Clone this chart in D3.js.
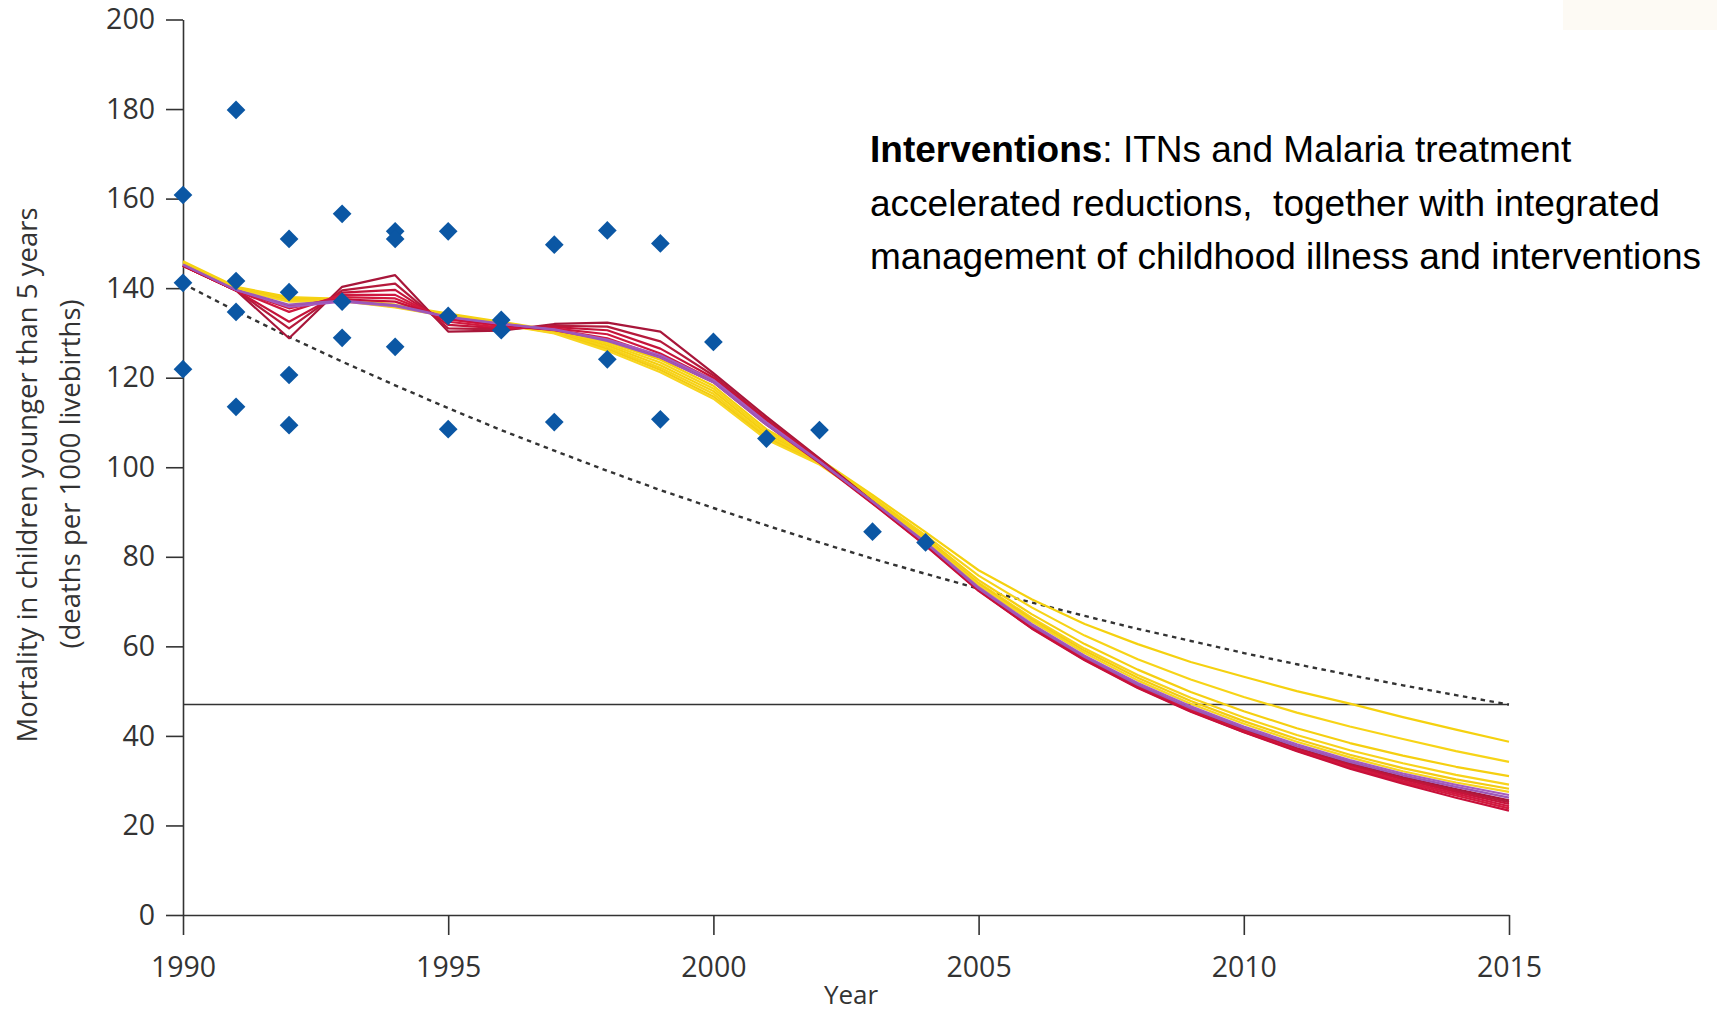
<!DOCTYPE html>
<html><head><meta charset="utf-8">
<script src="https://cdn.jsdelivr.net/npm/d3@7"></script>
<style>
body{margin:0;background:#fff;}
svg{display:block;}
</style>
</head><body>
<svg id="chart" width="1717" height="1011"></svg>
<script>
// ---------------- DATA ----------------
const years = [1990,1991,1992,1993,1994,1995,1996,1997,1998,1999,2000,2001,2002,
               2003,2004,2005,2006,2007,2008,2009,2010,2011,2012,2013,2014,2015];
const xTicks = [1990,1995,2000,2005,2010,2015];
const yTicks = [0,20,40,60,80,100,120,140,160,180,200];

// Observed survey estimates (diamonds)
const pointYears  = [1990,1990,1990, 1991,1991,1991,1991, 1992,1992,1992,1992,
                     1993,1993,1993, 1994,1994,1994, 1995,1995,1995, 1996,1996,
                     1997,1997, 1998,1998, 1999,1999, 2000, 2001, 2002, 2003, 2004];
const pointValues = [160.8,141.2,121.9, 179.8,141.6,134.7,113.5, 151.0,139.1,120.6,109.4,
                     156.6,137.0,128.9, 152.7,151.0,126.9, 152.7,133.8,108.5, 132.9,130.6,
                     149.7,110.1, 152.9,124.1, 150.0,110.7, 128.0, 106.4, 108.3, 85.6, 83.2];

// MDG target trajectory (dotted) and target level
const targetPath = [141,134.9,129.1,123.6,118.3,113.2,108.3,103.7,99.2,94.9,90.9,87.0,83.2,
                    79.6,76.2,72.9,69.8,66.8,63.9,61.2,58.5,56.0,53.6,51.3,49.1,47.0];
const targetLevel = 47;

// Model runs: yellow
const yellow1 = [146,140.3,138,137.6,136.3,134.3,132.5,130.6,128,124,118.2,108.5,101.8,
                 93.8,85.5,77,70.5,65,60.5,56.5,53.2,50,47.2,44.2,41.4,38.7];
const yellow2 = [145.7,140.1,137.8,137.5,136.1,134.1,132.3,130.4,127.6,123.4,117.6,108,101.5,
                 93.3,84.8,75.8,68.7,62.4,57.1,52.6,48.7,45.2,42.1,39.3,36.6,34.2];
const yellow3 = [145.5,140,137.6,137.4,136,134,132.2,130.2,127.2,122.8,117,107.5,101.2,
                 93,84.3,74.8,67.2,60.5,54.8,49.8,45.5,41.7,38.4,35.6,33.1,31.0];
const yellow4 = [145.3,139.9,137.4,137.3,135.9,133.9,132.1,130.1,126.8,122.2,116.4,107,101,
                 92.8,84,74.2,66.4,59.5,53.6,48.5,44.1,40.2,36.8,33.9,31.3,29.1];
const yellow5 = [145.1,139.8,137.2,137.2,135.8,133.8,132,130,126.4,121.7,115.8,106.6,100.8,
                 92.6,83.8,73.9,66,59,53,47.8,43.3,39.3,35.8,32.8,30.3,28.2];
const yellow6 = [145,139.7,137,137.1,135.7,133.7,131.9,129.9,126,121.2,115.3,106.2,100.6,
                 92.5,83.6,73.6,65.6,58.5,52.4,47.2,42.7,38.7,35.2,32.1,29.6,27.5];
// Model runs: red
const red1 = [145,139.5,128.8,140.3,142.9,130.3,130.5,132,132.3,130.3,121,111.3,102,
              92.4,83,72.9,64.5,57.4,51.2,45.9,41.4,37.3,33.8,30.8,28.1,25.6];
const red2 = [145,139.5,131,139.5,141,131,130.8,131.6,131.4,128.1,120.5,110.8,101.8,
              92.3,82.9,72.8,64.4,57.3,51.1,45.8,41.2,37.1,33.6,30.5,27.8,25.2];
const red3 = [145,139.5,132.5,139,139.6,131.8,131,131.3,130.6,126.5,120,110.5,101.6,
              92.2,82.8,72.7,64.3,57.2,51,45.7,41.1,37,33.4,30.3,27.5,24.8];
const red4 = [145,139.5,134.7,138.5,138.5,132.5,131.2,131,129.7,125.4,119.5,110,101.4,
              92.1,82.7,72.6,64.2,57.1,50.9,45.6,41,36.8,33.1,29.9,27.1,24.3];
const red5 = [145,139.5,135.5,138,137.7,133,131.5,130.8,128.8,124.7,119.2,109.8,101.2,
              92,82.6,72.5,64.1,57,50.8,45.5,40.9,36.7,32.9,29.6,26.7,23.8];
const red6 = [145,139.5,136,137.5,137,133.2,131.8,130.6,128.5,124.5,119,109.5,101,
              91.9,82.5,72.4,64,56.9,50.7,45.4,40.8,36.6,32.7,29.3,26.2,23.3];
// Model runs: purple
const purple1 = [145.3,139.6,135.8,137,136,133.5,132,130.8,128.5,125,119.5,110,101.3,
                 92.4,83.3,73.2,65,57.9,51.8,46.6,42.1,38.1,34.6,31.6,29.1,26.8];
const purple2 = [145.2,139.6,136.3,137.2,136.2,133.6,132.1,130.7,128.2,124.5,119,109.5,101.2,
                 92.3,83.1,72.9,64.7,57.6,51.4,46.2,41.7,37.7,34.2,31.2,28.6,26.2];

const yTitle1 = "Mortality in children younger than 5 years";
const yTitle2 = "(deaths per 1000 livebirths)";
const xTitle = "Year";
const noteBold = "Interventions";
const noteLines = [": ITNs and Malaria treatment",
                   "accelerated reductions,  together with integrated",
                   "management of childhood illness and interventions"];

// ---------------- CHART ----------------
const svg = d3.select("#chart");
const x = d3.scaleLinear().domain([1990, 2015]).range([183, 1509]);
const y = d3.scaleLinear().domain([0, 200]).range([915, 19.5]);

svg.append("rect").attr("x",1563).attr("y",0).attr("width",154).attr("height",30)
   .attr("fill","#fdfaf4");

const axisColor = "#333";
const tickFont = "'Open Sans', 'DejaVu Sans', sans-serif";

// Y axis
const gy = svg.append("g").attr("transform", `translate(${x(1990)},0)`)
  .call(d3.axisLeft(y).tickValues(yTicks).tickSize(17).tickSizeOuter(0).tickPadding(11));
// X axis
const gx = svg.append("g").attr("transform", `translate(0,${y(0)})`)
  .call(d3.axisBottom(x).tickValues(xTicks).tickFormat(d3.format("d")).tickSize(20).tickSizeOuter(0).tickPadding(22));
[gx, gy].forEach(g => {
  g.selectAll("path,line").attr("stroke", axisColor).attr("stroke-width", 1.6);
  g.selectAll("text").attr("fill", "#333").style("font-family", tickFont).style("font-size", "28.5px");
});

// target line
svg.append("line")
  .attr("x1", x(1990)).attr("x2", x(2015))
  .attr("y1", y(targetLevel)).attr("y2", y(targetLevel))
  .attr("stroke", "#333").attr("stroke-width", 1.6);

const line = d3.line().x((d,i) => x(years[i])).y(d => y(d));

// dotted trajectory
svg.append("path").datum(targetPath)
  .attr("d", line).attr("fill","none")
  .attr("stroke","#333").attr("stroke-width",2.4).attr("stroke-dasharray","4.5,4.5");

const runs = [
  {d: yellow1, c: "#f5d10f"}, {d: yellow2, c: "#f7d417"}, {d: yellow3, c: "#f5cf10"},
  {d: yellow4, c: "#f7d31a"}, {d: yellow5, c: "#f3cc12"}, {d: yellow6, c: "#f8d520"},
  {d: red1, c: "#a8163a"}, {d: red2, c: "#b51a3c"}, {d: red3, c: "#c4143a"},
  {d: red4, c: "#cf1840"}, {d: red5, c: "#d21a3e"}, {d: red6, c: "#c8103a"},
  {d: purple1, c: "#a45cc0"}, {d: purple2, c: "#9c58b8"}
];
svg.append("g").selectAll("path").data(runs).join("path")
  .attr("d", r => line(r.d)).attr("fill","none")
  .attr("stroke", r => r.c).attr("stroke-width", 2.2)
  .attr("stroke-linejoin","round");

// diamonds
const sym = d3.symbol().type(d3.symbolSquare).size(175);
svg.append("g").selectAll("path").data(pointYears).join("path")
  .attr("d", sym)
  .attr("transform", (d,i) => `translate(${x(d)},${y(pointValues[i])}) rotate(45)`)
  .attr("fill", "#0b57a4");

// axis titles
const titleFont = "'Open Sans', 'DejaVu Sans', sans-serif";
svg.append("text").attr("transform", "translate(37,475) rotate(-90)")
  .attr("text-anchor","middle").style("font-family", titleFont).style("font-size","27.5px")
  .attr("fill","#333").text(yTitle1);
svg.append("text").attr("transform", "translate(80,474) rotate(-90)")
  .attr("text-anchor","middle").style("font-family", titleFont).style("font-size","27.5px")
  .attr("fill","#333").text(yTitle2);
svg.append("text").attr("x", 851).attr("y", 1004)
  .attr("text-anchor","middle").style("font-family", titleFont).style("font-size","26px")
  .attr("fill","#333").text(xTitle);

// annotation
const noteFont = "'Liberation Sans', Arial, sans-serif";
const note = svg.append("g").style("font-family", noteFont).style("font-size","37px").attr("fill","#000");
const t1 = note.append("text").attr("x", 870).attr("y", 162);
t1.append("tspan").attr("font-weight","bold").text(noteBold);
t1.append("tspan").text(noteLines[0]);
note.append("text").attr("x", 870).attr("y", 216).style("white-space","pre").text(noteLines[1]);
note.append("text").attr("x", 870).attr("y", 269).text(noteLines[2]);
</script>
</body></html>
